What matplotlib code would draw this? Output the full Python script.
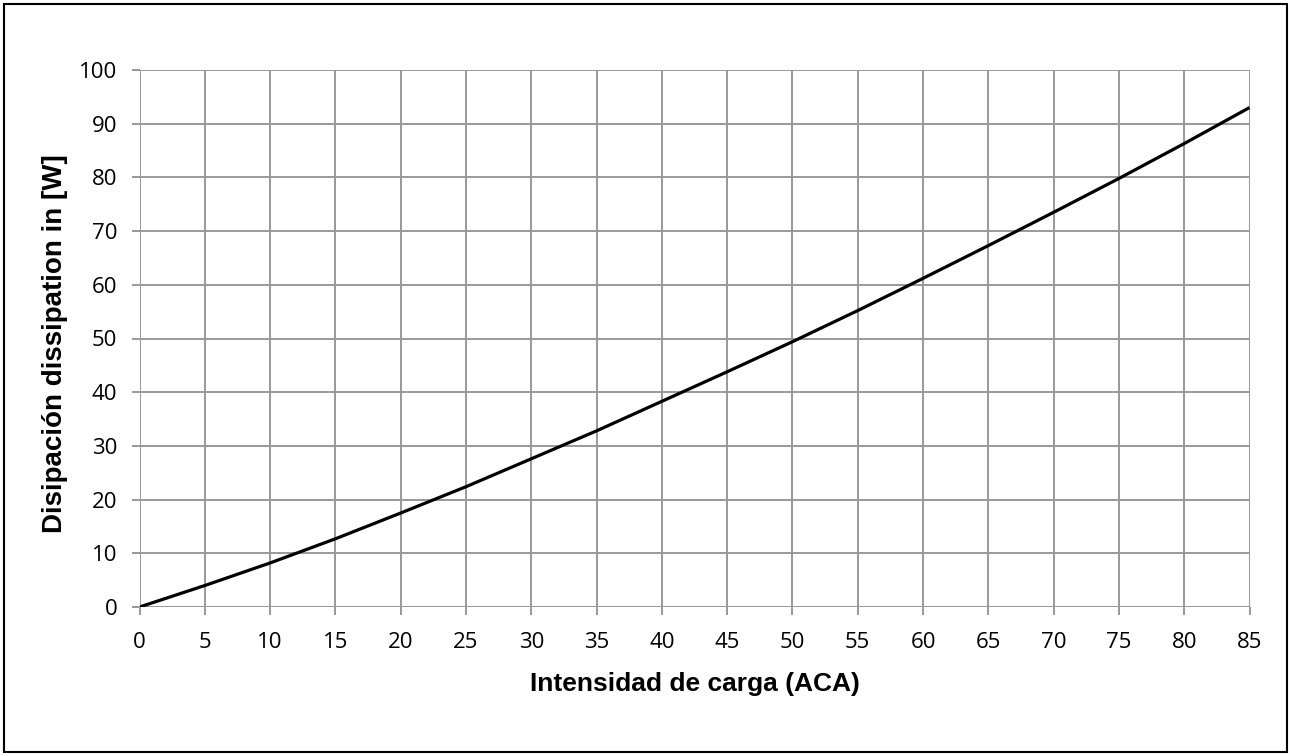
import matplotlib
matplotlib.use("Agg")
import matplotlib.pyplot as plt
from matplotlib.patches import Rectangle
import numpy as np

current_a = [0, 5, 10, 15, 20, 25, 30, 35, 40, 45, 50, 55, 60, 65, 70, 75, 80, 85]
power_w = [0, 4.0, 8.2, 12.7, 17.5, 22.4, 27.6, 32.8, 38.3, 43.8, 49.4, 55.2, 61.2, 67.3, 73.5, 79.8, 86.3, 93.0]
x_ticks = list(range(0, 86, 5))
y_ticks = list(range(0, 101, 10))

fig = plt.figure(figsize=(12.9, 7.56), dpi=100)
ax = fig.add_axes([139.5/1290, 1-607/756, 1110/1290, 537/756])

ax.plot(current_a, power_w, color="black", lw=2.3, solid_capstyle="butt", zorder=3)

ax.set_xlim(0, 85)
ax.set_ylim(0, 100)
ax.set_xticks(x_ticks)
ax.set_yticks(y_ticks)
ax.grid(True, color="#999999", lw=1.4)
for s in ax.spines.values():
    s.set_visible(False)
ax.axhline(0, color="#999999", lw=1.4, zorder=2)
ax.tick_params(axis="both", length=6, width=1.4, color="#999999",
               labelsize=16, labelcolor="black")
ax.tick_params(axis="x", pad=12)
ax.tick_params(axis="y", pad=10)
for lab in ax.get_xticklabels() + ax.get_yticklabels():
    lab.set_family(["Open Sans", "DejaVu Sans"])

ax.set_xlabel("Intensidad de carga (ACA)", family="Liberation Sans", fontweight="bold",
              fontsize=19)
ax.set_ylabel("Disipación dissipation in [W]", family="Liberation Sans", fontweight="bold",
              fontsize=20)
ax.xaxis.set_label_coords(0.5, -0.121)
ax.yaxis.set_label_coords(-0.064, 0.49)

fig.patches.append(Rectangle((4/1290, 4/756), 1283/1290, 748/756, transform=fig.transFigure,
                             fill=False, edgecolor="black", lw=1.5))

fig.savefig("out.png", dpi=100)
